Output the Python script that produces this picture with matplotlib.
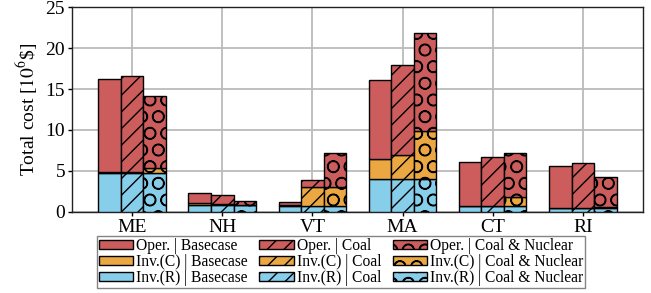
import numpy as np
import matplotlib
matplotlib.use("Agg")
import matplotlib.pyplot as plt
from matplotlib.patches import Patch

plt.rcParams["font.family"] = ["Liberation Serif", "DejaVu Serif"]
plt.rcParams["mathtext.fontset"] = "stix"
plt.rcParams["hatch.linewidth"] = 1.0

# ---------------- Dados ----------------
states = ["ME", "NH", "VT", "MA", "CT", "RI"]
scenarios = ["Basecase", "Coal", "Coal & Nuclear"]

# custo em 10^6 $  (linhas = cenarios, colunas = estados)
inv_r = [
    [4.75, 0.82, 0.73, 3.96, 0.70, 0.49],
    [4.75, 0.80, 0.75, 3.96, 0.70, 0.49],
    [4.70, 0.78, 0.73, 3.96, 0.70, 0.50],
]
inv_c = [
    [0.15, 0.24, 0.05, 2.44, 0.02, 0.00],
    [0.15, 0.20, 2.31, 2.94, 0.02, 0.00],
    [0.70, 0.04, 2.25, 5.91, 1.10, 0.04],
]
oper = [
    [11.30, 1.19, 0.37, 9.70, 5.36, 5.13],
    [11.65, 1.00, 0.78, 11.00, 5.93, 5.51],
    [8.75, 0.45, 4.15, 11.98, 5.34, 3.70],
]

comp_names = ["Oper.", "Inv.(C)", "Inv.(R)"]
comp_colors = {"Oper.": "#CD5C5C", "Inv.(C)": "#EBA842", "Inv.(R)": "#87CEEB"}
hatches = ["", "//", "O"]

# ---------------- Figura ----------------
fig = plt.figure(figsize=(6.51, 2.93), dpi=100)
ax = fig.add_axes([0.1106, 0.2775, 0.877, 0.6975])

x = np.arange(len(states))
w = 0.25
for i, sc in enumerate(scenarios):
    pos = x + (i - 1) * w
    r = np.array(inv_r[i])
    c = np.array(inv_c[i])
    o = np.array(oper[i])
    kw = dict(width=w, edgecolor="black", linewidth=1.0, hatch=hatches[i], zorder=3)
    ax.bar(pos, r, color=comp_colors["Inv.(R)"], **kw)
    ax.bar(pos, c, bottom=r, color=comp_colors["Inv.(C)"], **kw)
    ax.bar(pos, o, bottom=r + c, color=comp_colors["Oper."], **kw)

ax.set_xlim(-2 / 3, len(states) - 1 + 2 / 3)
ax.set_ylim(0, 25)
ax.set_yticks([0, 5, 10, 15, 20, 25])
ax.set_xticks(x)
ax.set_xticklabels(states)
ax.tick_params(labelsize=14, length=3, width=1, pad=2)
ax.set_ylabel(r"Total cost [$10^6$\$]", fontsize=14, labelpad=4)
ax.grid(True, color="#bbbbbb", linewidth=1.3, zorder=0)
ax.set_axisbelow(True)
for s in ax.spines.values():
    s.set_linewidth(1.0)
    s.set_color("#222222")

# legenda (ordem por coluna)
handles = []
labels = []
for i, sc in enumerate(scenarios):
    for comp in comp_names:
        handles.append(Patch(facecolor=comp_colors[comp], edgecolor="black",
                             linewidth=1.0, hatch=hatches[i]))
        labels.append(f"{comp} | {sc}")

leg = fig.legend(handles, labels, ncol=3, loc="upper center",
                 bbox_to_anchor=(0.524, 0.193), fontsize=11.2,
                 frameon=True, fancybox=False, edgecolor="#666666",
                 handlelength=2.2, handleheight=0.6, handletextpad=0.2,
                 columnspacing=0.75, labelspacing=0.0, borderpad=0.1,
                 borderaxespad=0.0)
leg.get_frame().set_linewidth(1.0)

fig.savefig("out.png", dpi=100)
